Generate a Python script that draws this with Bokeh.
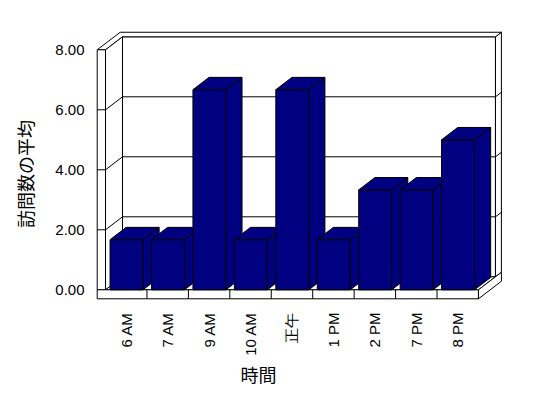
import math
from bokeh.plotting import figure
from bokeh.models import FixedTicker, NumeralTickFormatter, Range1d, Title
from bokeh.embed import file_html
from bokeh.resources import INLINE

# ---- data ----
times = ["6 AM", "7 AM", "9 AM", "10 AM", "正午", "1 PM", "2 PM", "7 PM", "8 PM"]
avg_visits = [1.67, 1.67, 6.67, 1.67, 6.67, 1.67, 3.33, 3.33, 5.0]
y_ticks = [0, 2, 4, 6, 8]
x_title = "時間"
y_title = "訪問数の平均"

# ---- 3D geometry (oblique projection in data units) ----
KX, KY = 0.41, 0.433        # shift for depth 1 (front plane -> back wall front face)
T = 1.35                    # back wall back face depth
LW = 0.2                    # left wall thickness (x units)
FT = 0.3                    # floor thickness (y units)
BD = 0.95                   # bar depth
XL, XR = -0.5, len(times) - 0.5
YTOP = max(y_ticks)
BAR_L, BAR_R = -0.39, 0.405  # bar front face relative to category centre

NAVY = "#000080"


def P(x, y, d):
    return (x + d * KX, y + d * KY)


def poly(pts):
    xs = [P(*q)[0] for q in pts]
    ys = [P(*q)[1] for q in pts]
    return xs, ys


p = figure(width=548, height=398, output_backend="svg", toolbar_location=None,
           x_range=Range1d(-0.862, 9.273), y_range=Range1d(-1.09, 8.81),
           min_border_left=90, min_border_right=38, min_border_top=25, min_border_bottom=76,
           background_fill_color="white", border_fill_color="white")
p.title.visible = False
p.outline_line_color = None
p.xgrid.visible = False
p.ygrid.visible = False

# ---- walls & floor ----
faces = [
    [(XL, 0, 1), (XR, 0, 1), (XR, YTOP, 1), (XL, YTOP, 1)],
    [(XR, 0, 1), (XR, 0, T), (XR, YTOP, T), (XR, YTOP, 1)],
    [(XL - LW, YTOP, 0), (XL, YTOP, 0), (XL, YTOP, 1), (XR, YTOP, 1), (XR, YTOP, T), (XL - LW, YTOP, T)],
    [(XL, 0, 0), (XL, 0, 1), (XL, YTOP, 1), (XL, YTOP, 0)],
    [(XL - LW, 0, 0), (XL, 0, 0), (XL, YTOP, 0), (XL - LW, YTOP, 0)],
    [(XL, 0, 0), (XR, 0, 0), (XR, 0, 1), (XL, 0, 1)],
    [(XL - LW, -FT, 0), (XR, -FT, 0), (XR, 0, 0), (XL - LW, 0, 0)],
    [(XR, -FT, 0), (XR, -FT, T), (XR, 0, T), (XR, 0, 0)],
]
wx, wy = [], []
for f in faces:
    a, b = poly(f)
    wx.append(a)
    wy.append(b)
p.patches(wx, wy, fill_color="white", line_color="black", line_width=1)

# ---- gridlines ----
gx, gy = [], []
for yv in y_ticks[1:-1]:
    for seg in ([(XL, yv, 1), (XR, yv, 1)], [(XL, yv, 0), (XL, yv, 1)],
                [(XL - LW, yv, 0), (XL, yv, 0)], [(XR, yv, 1), (XR, yv, T)]):
        a, b = poly(seg)
        gx.append(a)
        gy.append(b)
for i in range(len(times) - 1):
    a, b = poly([(i + 0.5, -FT, 0), (i + 0.5, 0, 0)])
    gx.append(a)
    gy.append(b)
p.multi_line(gx, gy, line_color="black", line_width=1)

# ---- bars ----
bx, by = [], []
for i, v in enumerate(avg_visits):
    l, r = i + BAR_L, i + BAR_R
    for f in ([(l, 0, 0), (r, 0, 0), (r, v, 0), (l, v, 0)],
              [(l, v, 0), (r, v, 0), (r, v, BD), (l, v, BD)],
              [(r, 0, 0), (r, 0, BD), (r, v, BD), (r, v, 0)]):
        a, b = poly(f)
        bx.append(a)
        by.append(b)
p.patches(bx, by, fill_color=NAVY, line_color="black", line_width=1)

# ---- axes ----
p.xaxis.ticker = FixedTicker(ticks=list(range(len(times))))
p.xaxis.major_label_overrides = {i: t for i, t in enumerate(times)}
p.xaxis.major_label_orientation = math.pi / 2
p.yaxis.ticker = FixedTicker(ticks=y_ticks)
p.yaxis.formatter = NumeralTickFormatter(format="0.00")
for ax in (p.xaxis, p.yaxis):
    ax.axis_line_color = None
    ax.major_tick_line_color = None
    ax.minor_tick_line_color = None
    ax.major_tick_out = 0
    ax.major_tick_in = 0
    ax.major_label_text_font = "Liberation Sans"
    ax.major_label_text_font_size = "15px"
    ax.major_label_text_color = "black"
p.yaxis.major_label_standoff = 6
p.xaxis.major_label_standoff = -10

# ---- axis titles ----
p.yaxis.axis_label = y_title
p.yaxis.axis_label_standoff = 14
p.yaxis.axis_label_text_font = "Noto Sans CJK JP"
p.yaxis.axis_label_text_font_size = "18px"
p.yaxis.axis_label_text_font_style = "normal"
p.yaxis.axis_label_text_color = "black"
p.add_layout(Title(text=x_title, align="left", offset=150, standoff=0, text_font="Noto Sans CJK JP",
                   text_font_size="18px", text_font_style="normal", text_color="black"), "below")

open("out.html", "w").write(file_html(p, INLINE))
